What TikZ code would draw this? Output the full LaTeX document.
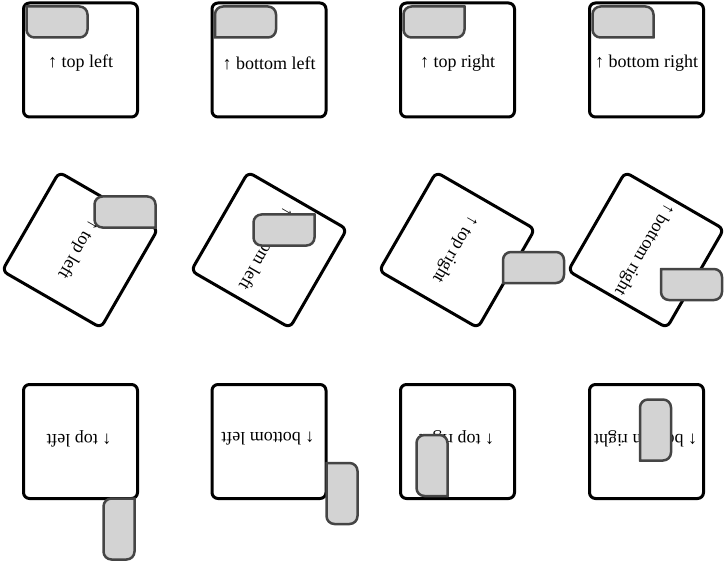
\documentclass[tikz,border=0pt]{standalone}
\usepackage{fontspec}
\setmainfont{Liberation Serif}
\definecolor{gboxline}{HTML}{454545}
\definecolor{gboxfill}{HTML}{D3D3D3}
\tikzset{
  outerbox/.style={draw=black, line width=3pt, rounded corners=6pt, fill=white,
    minimum width=114pt, minimum height=114pt, inner sep=0pt},
  lbl/.style={font=\fontsize{18}{21}\selectfont, inner sep=0pt},
  graybox/.style={draw=gboxline, fill=gboxfill, line width=2.5pt},
}
% x1 y1 x2 y2 r_tl r_tr r_br r_bl  (screen coordinates, y downwards)
\newcommand{\gbox}[8]{%
  \draw[graybox] (#1+#5,#2) -- (#3-#6,#2) arc[start angle=-90,end angle=0,radius=#6]
   -- (#3,#4-#7) arc[start angle=0,end angle=90,radius=#7]
   -- (#1+#8,#4) arc[start angle=90,end angle=180,radius=#8]
   -- (#1,#2+#5) arc[start angle=180,end angle=270,radius=#5] -- cycle;}
\begin{document}
\begin{tikzpicture}[x=1pt,y=-1pt]
\useasboundingbox[fill=white] (0,0) rectangle (727,561);
% ---------- row 1 (no rotation)
\node[outerbox] (b11) at (80.5,60) {};
\node[outerbox] (b12) at (269,60) {};
\node[outerbox] (b13) at (457.5,60) {};
\node[outerbox] (b14) at (646.5,60) {};
\node[lbl] (t11) at (80.5,63) {↑ top left};
\node[lbl] (t12) at (269,63) {↑ bottom left};
\node[lbl] (t13) at (457.5,63) {↑ top right};
\node[lbl] (t14) at (646.5,63) {↑ bottom right};
\gbox{26.5}{6.5}{87.5}{37.5}{0.01}{8}{8}{8}
\gbox{215}{6.5}{276}{37.5}{8}{8}{8}{0.01}
\gbox{403.5}{6.5}{464.5}{37.5}{8}{0.01}{8}{8}
\gbox{592.5}{6.5}{653.5}{37.5}{8}{8}{0.01}{8}
% ---------- row 2 (rotated 120 degrees clockwise)
\node[outerbox, rotate=-120] (b21) at (80,250) {};
\node[outerbox, rotate=-120] (b22) at (269,250) {};
\node[outerbox, rotate=-120] (b23) at (457,250) {};
\node[outerbox, rotate=-120] (b24) at (646,250) {};
\node[lbl, rotate=-120] (t21) at (78,249) {↑ top left};
\node[lbl, rotate=-120] (t22) at (267,249) {↑ bottom left};
\node[lbl, rotate=-120] (t23) at (455,249) {↑ top right};
\node[lbl, rotate=-120] (t24) at (644,249) {↑ bottom right};
\gbox{94.5}{196.5}{155.5}{227.5}{8}{8}{0.01}{8}
\gbox{253.5}{214.5}{314.5}{245.5}{8}{0.01}{8}{8}
\gbox{503}{252}{564}{283}{8}{8}{8}{0.01}
\gbox{661}{269}{722}{300}{0.01}{8}{8}{8}
% ---------- row 3 (rotated 180 degrees)
\node[outerbox, rotate=180] (b31) at (80.5,441.5) {};
\node[outerbox, rotate=180] (b32) at (269,441.5) {};
\node[outerbox, rotate=180] (b33) at (457.5,441.5) {};
\node[outerbox, rotate=180] (b34) at (646.5,441.5) {};
\node[lbl, rotate=180] (t31) at (79,438.5) {↑ top left};
\node[lbl, rotate=180] (t32) at (268,438.5) {↑ bottom left};
\node[lbl, rotate=180] (t33) at (456.5,438.5) {↑ top right};
\node[lbl, rotate=180] (t34) at (645.5,438.5) {↑ bottom right};
\gbox{103.5}{498.5}{134.5}{559.5}{8}{0.01}{8}{8}
\gbox{326.5}{463}{357.5}{524}{0.01}{8}{8}{8}
\gbox{416.5}{435}{447.5}{496}{8}{8}{0.01}{8}
\gbox{640}{399.5}{671}{460.5}{8}{8}{8}{0.01}
\end{tikzpicture}
\end{document}
